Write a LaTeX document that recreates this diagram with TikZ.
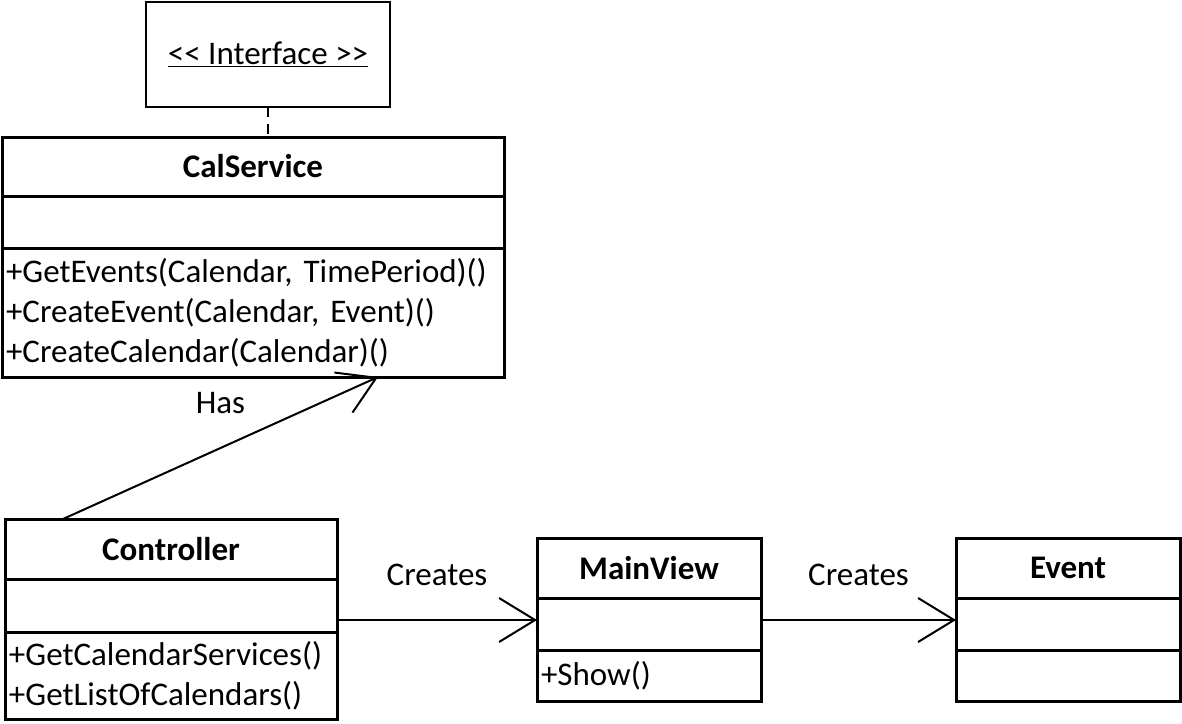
\documentclass[tikz,border=0pt]{standalone}
\usepackage{fontspec}
\setmainfont{Carlito}
\usetikzlibrary{arrows.meta, calc, positioning}

\tikzset{
  classpart/.style={draw, line width=3pt, outer sep=0pt, inner sep=0pt, font=\fontsize{33}{40}\selectfont},
  classname/.style={classpart, font=\fontsize{33}{40}\selectfont\bfseries},
  classops/.style={classpart, align=left, inner xsep=4pt},
  assoc/.style={line width=2pt, -{Straight Barb[length=36pt, width=44pt, line width=2pt]}},
  assoclabel/.style={font=\fontsize{33}{40}\selectfont, midway, yshift=45pt}
}

\begin{document}
\begin{tikzpicture}[x=1pt, y=-1pt]
    \useasboundingbox (0,0) rectangle (1182,723);

    % Interface
    \node[draw, line width=2pt, outer sep=0pt, minimum width=244pt, minimum height=105pt,
          anchor=north west, font=\fontsize{33}{40}\selectfont] (iface) at (146,2)
          {\underline{<\kern0pt< Interface >\kern0pt>}};

    % CalService
    \node[classname, minimum width=502pt, minimum height=59pt, anchor=north west] (cs-title) at (2,137) {CalService};
    \node[classpart, minimum width=502pt, minimum height=52pt, below=0pt of cs-title] (cs-attr) {};
    \node[classops, text width=494pt, minimum height=129pt, below=0pt of cs-attr] (cs-ops)
        {+GetEvents(Calendar, TimePeriod)()\\+CreateEvent(Calendar, Event)()\\+CreateCalendar(Calendar)()};

    % Controller
    \node[classname, minimum width=332pt, minimum height=60pt, anchor=north west] (ctrl-title) at (5,519) {Controller};
    \node[classpart, minimum width=332pt, minimum height=53pt, below=0pt of ctrl-title] (ctrl-attr) {};
    \node[classops, text width=324pt, minimum height=87pt, below=0pt of ctrl-attr] (ctrl-ops)
        {+GetCalendarServices()\\+GetListOfCalendars()};

    % MainView
    \node[classname, minimum width=224pt, minimum height=60pt, anchor=north west] (mv-title) at (537,538) {MainView};
    \node[classpart, minimum width=224pt, minimum height=52pt, below=0pt of mv-title] (mv-attr) {};
    \node[classops, text width=216pt, minimum height=51pt, below=0pt of mv-attr] (mv-ops) {+Show()};

    % Event
    \node[classname, minimum width=224pt, minimum height=60pt, anchor=north west] (ev-title) at (956,538) {Event};
    \node[classpart, minimum width=224pt, minimum height=52pt, below=0pt of ev-title] (ev-attr) {};
    \node[classpart, minimum width=224pt, minimum height=51pt, below=0pt of ev-attr] (ev-ops) {};

    % Connectors
    \draw[line width=2pt, dash pattern=on 10pt off 7pt] (iface.south) -- (iface.south |- cs-title.north);
    \draw[assoc] ($(ctrl-title.north west)+(58,0)$) -- ($(cs-ops.south west)+(376,0)$)
        node[assoclabel] {Has};
    \coordinate (mv-in) at ($(mv-attr.west)+(0,-4)$);
    \coordinate (ev-in) at ($(ev-attr.west)+(0,-4)$);
    \draw[assoc] (ctrl-attr.east |- mv-in) -- (mv-in) node[assoclabel] {Creates};
    \draw[assoc] (mv-attr.east |- ev-in) -- (ev-in) node[assoclabel] {Creates};
\end{tikzpicture}
\end{document}
